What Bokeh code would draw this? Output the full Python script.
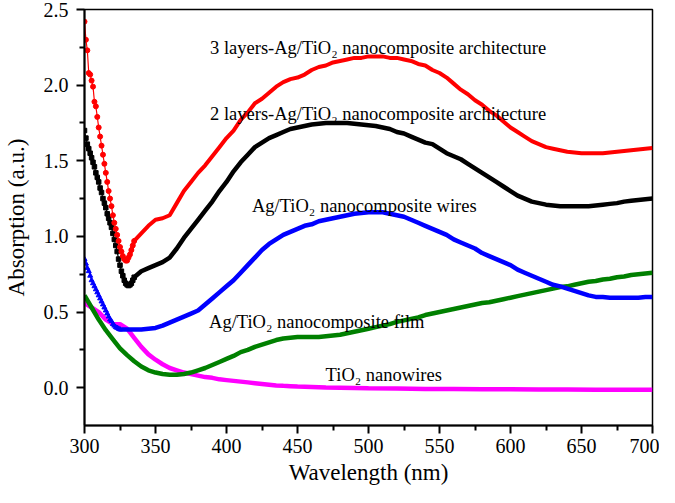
from bokeh.plotting import figure
from bokeh.models import Range1d, Label, NumeralTickFormatter, FixedTicker
from bokeh.embed import file_html
from bokeh.resources import INLINE

# ---------------- data ----------------
red_wl = [300, 301, 302, 303, 304, 305, 306, 307, 308, 309, 310, 311, 312, 313, 314, 315, 316, 317, 318, 319,
          320, 321, 322, 323, 324, 325, 326, 327, 328, 329, 330, 331, 332, 333, 334, 335,
          340, 345, 350, 355, 360, 365, 370, 375, 380, 385, 390, 395, 400, 405, 410, 415, 420, 425, 430, 435,
          440, 445, 450, 455, 460, 465, 470, 475, 480, 485, 490, 495, 500, 505, 510, 515, 520, 525, 530, 535,
          540, 545, 550, 555, 560, 565, 570, 575, 580, 585, 590, 595, 600, 605, 610, 615, 620, 625, 630, 635,
          640, 645, 650, 655, 660, 665, 670, 675, 680, 685, 690, 695, 700]
red_abs = [2.42, 2.30, 2.23, 2.08, 2.07, 2.03, 1.99, 1.89, 1.86, 1.79, 1.72, 1.66, 1.60, 1.54, 1.48, 1.42, 1.36, 1.30, 1.25, 1.20,
           1.14, 1.09, 1.05, 1.01, 0.97, 0.93, 0.90, 0.87, 0.85, 0.84, 0.84, 0.86, 0.88, 0.91, 0.94, 0.97,
           1.02, 1.07, 1.11, 1.12, 1.14, 1.22, 1.30, 1.36, 1.42, 1.47, 1.53, 1.59, 1.65, 1.70, 1.77, 1.82, 1.88, 1.91, 1.95, 1.99,
           2.02, 2.04, 2.05, 2.07, 2.10, 2.12, 2.13, 2.15, 2.16, 2.17, 2.18, 2.18, 2.19, 2.19, 2.19, 2.18, 2.18, 2.17, 2.16, 2.14,
           2.13, 2.10, 2.08, 2.05, 2.01, 1.97, 1.94, 1.90, 1.87, 1.83, 1.80, 1.76, 1.72, 1.69, 1.66, 1.63, 1.61, 1.59, 1.58, 1.57,
           1.56, 1.555, 1.55, 1.55, 1.55, 1.55, 1.555, 1.56, 1.565, 1.57, 1.575, 1.58, 1.585]

black_wl = [300, 301, 302, 303, 304, 305, 306, 307, 308, 309, 310, 311, 312, 313, 314, 315, 316, 317, 318, 319,
            320, 321, 322, 323, 324, 325, 326, 327, 328, 329, 330, 331, 332, 333, 334, 335,
            340, 345, 350, 355, 360, 365, 370, 375, 380, 385, 390, 395, 400, 405, 410, 415, 420, 425, 430, 435,
            440, 445, 450, 455, 460, 465, 470, 475, 480, 485, 490, 495, 500, 505, 510, 515, 520, 525, 530, 535,
            540, 545, 550, 555, 560, 565, 570, 575, 580, 585, 590, 595, 600, 605, 610, 615, 620, 625, 630, 635,
            640, 645, 650, 655, 660, 665, 670, 675, 680, 685, 690, 695, 700]
black_abs = [1.70, 1.65, 1.61, 1.58, 1.55, 1.52, 1.49, 1.46, 1.42, 1.39, 1.36, 1.32, 1.29, 1.25, 1.22, 1.19, 1.15, 1.12, 1.09, 1.06,
             1.02, 0.98, 0.94, 0.90, 0.85, 0.81, 0.77, 0.74, 0.71, 0.69, 0.68, 0.675, 0.68, 0.69, 0.71, 0.73,
             0.77, 0.79, 0.81, 0.83, 0.86, 0.92, 0.99, 1.05, 1.11, 1.17, 1.23, 1.30, 1.36, 1.43, 1.49, 1.54, 1.59, 1.62, 1.65, 1.67,
             1.69, 1.71, 1.72, 1.73, 1.74, 1.745, 1.75, 1.75, 1.75, 1.75, 1.745, 1.74, 1.735, 1.73, 1.72, 1.71, 1.69, 1.68, 1.66, 1.64,
             1.62, 1.61, 1.58, 1.55, 1.53, 1.51, 1.48, 1.45, 1.42, 1.39, 1.36, 1.33, 1.30, 1.27, 1.25, 1.23, 1.22, 1.21, 1.205, 1.20,
             1.20, 1.20, 1.20, 1.20, 1.205, 1.21, 1.215, 1.22, 1.23, 1.235, 1.24, 1.245, 1.25]

blue_wl = [300, 301, 302, 303, 304, 305, 306, 307, 308, 309, 310, 311, 312, 313, 314, 315, 316, 317, 318, 319,
           320, 321, 322, 323, 324, 325,
           330, 335, 340, 345, 350, 355, 360, 365, 370, 375, 380, 385, 390, 395, 400, 405, 410, 415, 420, 425, 430, 435,
           440, 445, 450, 455, 460, 465, 470, 475, 480, 485, 490, 495, 500, 505, 510, 515, 520, 525, 530, 535,
           540, 545, 550, 555, 560, 565, 570, 575, 580, 585, 590, 595, 600, 605, 610, 615, 620, 625, 630, 635,
           640, 645, 650, 655, 660, 665, 670, 675, 680, 685, 690, 695, 700]
blue_abs = [0.85, 0.82, 0.79, 0.77, 0.74, 0.71, 0.69, 0.67, 0.65, 0.63, 0.61, 0.59, 0.57, 0.55, 0.53, 0.51, 0.49, 0.47, 0.45, 0.44,
            0.42, 0.41, 0.40, 0.395, 0.39, 0.385,
            0.385, 0.385, 0.385, 0.39, 0.395, 0.41, 0.43, 0.45, 0.47, 0.49, 0.51, 0.55, 0.59, 0.63, 0.67, 0.71, 0.76, 0.81, 0.86, 0.91, 0.95, 0.98,
            1.01, 1.03, 1.05, 1.07, 1.08, 1.10, 1.11, 1.12, 1.13, 1.14, 1.15, 1.155, 1.16, 1.16, 1.16, 1.15, 1.14, 1.13, 1.11, 1.09,
            1.07, 1.05, 1.03, 1.01, 0.98, 0.96, 0.94, 0.92, 0.89, 0.87, 0.85, 0.83, 0.81, 0.78, 0.76, 0.74, 0.72, 0.70, 0.68, 0.67,
            0.655, 0.64, 0.625, 0.61, 0.60, 0.60, 0.595, 0.595, 0.595, 0.595, 0.595, 0.60, 0.60]

green_wl = [300, 305, 310, 315, 320, 325, 330, 335, 340, 345, 350, 355, 360, 365, 370, 375, 380, 385, 390, 395,
            400, 405, 410, 415, 420, 425, 430, 435, 440, 445, 450, 455, 460, 465, 470, 475, 480, 485, 490, 495,
            500, 505, 510, 515, 520, 525, 530, 535, 540, 545, 550, 555, 560, 565, 570, 575, 580, 585, 590, 595,
            600, 605, 610, 615, 620, 625, 630, 635, 640, 645, 650, 655, 660, 665, 670, 675, 680, 685, 690, 695, 700]
green_abs = [0.61, 0.53, 0.45, 0.38, 0.32, 0.26, 0.215, 0.175, 0.14, 0.115, 0.10, 0.09, 0.085, 0.085, 0.09, 0.10, 0.115, 0.13, 0.15, 0.17,
             0.19, 0.21, 0.235, 0.25, 0.27, 0.285, 0.30, 0.315, 0.325, 0.33, 0.335, 0.335, 0.335, 0.335, 0.34, 0.345, 0.35, 0.36, 0.37, 0.38,
             0.39, 0.40, 0.41, 0.42, 0.435, 0.445, 0.455, 0.465, 0.48, 0.49, 0.50, 0.51, 0.52, 0.53, 0.54, 0.55, 0.56, 0.565, 0.575, 0.585,
             0.595, 0.605, 0.615, 0.625, 0.635, 0.645, 0.655, 0.665, 0.67, 0.68, 0.69, 0.70, 0.705, 0.715, 0.72, 0.73, 0.735, 0.745, 0.75, 0.755, 0.76]

magenta_wl = [300, 305, 310, 315, 320, 325, 330, 335, 340, 345, 350, 355, 360, 365, 370, 375, 380, 385, 390, 395,
              400, 405, 410, 415, 420, 425, 430, 435, 440, 445, 450, 460, 470, 480, 490, 500, 520, 540, 560, 580,
              600, 620, 640, 660, 680, 700]
magenta_abs = [0.56, 0.53, 0.50, 0.45, 0.42, 0.42, 0.39, 0.33, 0.27, 0.22, 0.185, 0.155, 0.13, 0.115, 0.10, 0.09, 0.08, 0.07, 0.065, 0.055,
               0.05, 0.045, 0.04, 0.035, 0.03, 0.025, 0.02, 0.015, 0.012, 0.01, 0.008, 0.005, 0.002, 0.0, -0.002, -0.004, -0.006, -0.008, -0.008, -0.01,
               -0.01, -0.012, -0.012, -0.013, -0.013, -0.014]

x_ticks = [300, 350, 400, 450, 500, 550, 600, 650, 700]
x_minor = [325, 375, 425, 475, 525, 575, 625, 675]
y_ticks = [0.0, 0.5, 1.0, 1.5, 2.0, 2.5]
y_minor = [0.25, 0.75, 1.25, 1.75, 2.25]

labels = ["3 layers-Ag/TiO\u2082 nanocomposite architecture",
          "2 layers-Ag/TiO\u2082 nanocomposite architecture",
          "Ag/TiO\u2082 nanocomposite wires",
          "Ag/TiO\u2082 nanocomposite film",
          "TiO\u2082 nanowires"]
label_x = [388.4, 388.4, 417.9, 387.7, 469.8]
label_y = [2.245, 1.81, 1.203, 0.433, 0.084]

# ---------------- figure ----------------
FONT = "Liberation Serif"
p = figure(width=659, height=487, output_backend="svg", toolbar_location=None,
           x_range=Range1d(300, 700), y_range=Range1d(-0.25, 2.5),
           min_border_left=82, min_border_right=7, min_border_top=9, min_border_bottom=58)
p.grid.visible = False
p.outline_line_color = "black"
p.outline_line_width = 1.5
p.background_fill_color = "white"
p.border_fill_color = "white"

for ax in (p.xaxis, p.yaxis):
    ax.axis_line_width = 2
    ax.major_tick_line_width = 2
    ax.minor_tick_line_width = 2
    ax.major_tick_in = 0
    ax.major_tick_out = 8
    ax.minor_tick_in = 0
    ax.minor_tick_out = 5
    ax.major_label_text_font = FONT
    ax.major_label_text_font_size = "20px"
    ax.major_label_text_color = "black"
    ax.axis_label_text_font = FONT
    ax.axis_label_text_font_size = "23px"
    ax.axis_label_text_font_style = "normal"
    ax.axis_label_text_color = "black"

p.xaxis.ticker = FixedTicker(ticks=x_ticks, minor_ticks=x_minor)
p.yaxis.ticker = FixedTicker(ticks=y_ticks, minor_ticks=y_minor)
p.yaxis.formatter = NumeralTickFormatter(format="0.0")
p.xaxis.major_label_standoff = 5
p.yaxis.major_label_standoff = 8
p.xaxis.axis_label = "Wavelength (nm)"
p.yaxis.axis_label = "Absorption (a.u.)"
p.xaxis.axis_label_standoff = 4
p.yaxis.axis_label_standoff = 12

# magenta and green (thick)
p.line(magenta_wl, magenta_abs, line_color="#ff00ff", line_width=4.5)
p.line(green_wl, green_abs, line_color="#008000", line_width=4.5)

# blue: triangles on dense start + thick line
nb = 26
p.line(blue_wl[:nb + 1], blue_abs[:nb + 1], line_color="#0000ff", line_width=1.2)
p.scatter(blue_wl[:nb], blue_abs[:nb], marker="triangle", size=5, color="#0000ff")
p.line(blue_wl[nb - 3:], blue_abs[nb - 3:], line_color="#0000ff", line_width=4.5)

# black: squares + thick line
nk = 36
p.line(black_wl[:nk + 1], black_abs[:nk + 1], line_color="black", line_width=1.2)
p.scatter(black_wl[:nk], black_abs[:nk], marker="square", size=4.5, color="black")
p.line(black_wl[nk - 4:], black_abs[nk - 4:], line_color="black", line_width=4.5)

# red: circles + thick line
nr = 36
p.line(red_wl[:nr + 1], red_abs[:nr + 1], line_color="#ff0000", line_width=1.2)
p.scatter(red_wl[:nr], red_abs[:nr], marker="circle", size=5, color="#ff0000")
p.line(red_wl[nr - 4:], red_abs[nr - 4:], line_color="#ff0000", line_width=4)

for t, lx, ly in zip(labels, label_x, label_y):
    p.add_layout(Label(x=lx, y=ly, text=t, text_font=FONT, text_font_size="18.5px",
                       text_color="black", text_baseline="alphabetic", text_align="left"))

open("out.html", "w").write(file_html(p, INLINE))
